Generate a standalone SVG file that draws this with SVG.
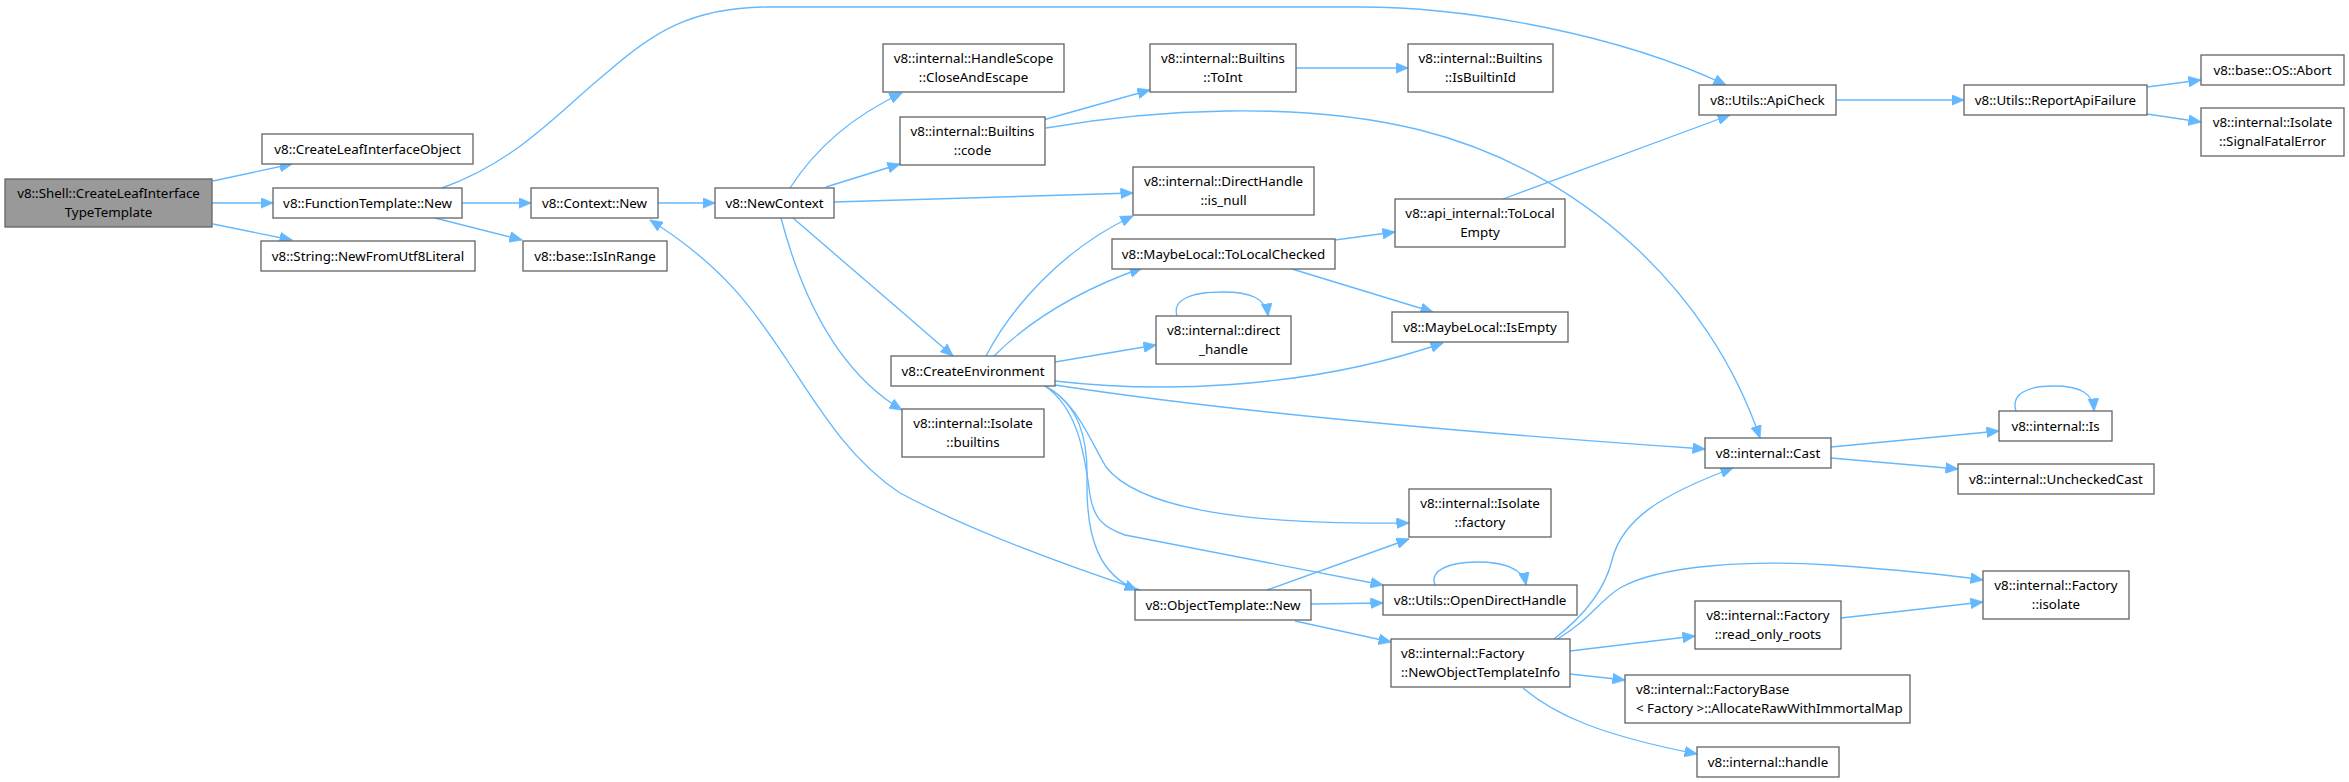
<svg xmlns="http://www.w3.org/2000/svg" width="2349" height="782" viewBox="0 0 2349 782">
<style>
.n rect{fill:#ffffff;stroke:#666666;stroke-width:1.33}
.n.root rect{fill:#999999}
.n text{font-family:"Noto Sans","DejaVu Sans",sans-serif;font-size:13.33px;fill:#000000;text-anchor:middle}
.n text.l{text-anchor:start}
#edges path{fill:none;stroke:#63B8FF;stroke-width:1.33;marker-end:url(#arr)}
</style>
<defs>
<marker id="arr" markerUnits="userSpaceOnUse" markerWidth="13" markerHeight="11" viewBox="0 0 13 11" refX="12.5" refY="5.5" orient="auto">
<path d="M0,0 L13,5.5 L0,11 z" fill="#63B8FF" stroke="#63B8FF" stroke-width="0.5"/>
</marker>
</defs>
<rect width="2349" height="782" fill="#ffffff"/>
<g id="edges">
<path d="M213,181 L292,164"/>
<path d="M212,203 L273,203"/>
<path d="M213,224 L292,240"/>
<path d="M442,188 C520,160 560,110 610,70 C650,35 690,7 768,7 L1360,7 C1470,7 1620,35 1726,85"/>
<path d="M462,203 L531,203"/>
<path d="M435,218 L522,240"/>
<path d="M658,203 L715,203"/>
<path d="M790,188 C808,160 840,122 902,93"/>
<path d="M826,187 L900,164"/>
<path d="M834,202 L1133,193"/>
<path d="M793,218 C830,250 900,310 953,356"/>
<path d="M781,218 C800,290 835,370 902,410"/>
<path d="M1140,590 C1050,560 960,525 900,493 C850,460 820,410 787,360 C760,320 730,270 650,220"/>
<path d="M986,356 C1010,310 1060,250 1133,216"/>
<path d="M994,356 C1030,320 1080,290 1142,268"/>
<path d="M1055,362 L1156,345"/>
<path d="M1055,381 C1150,392 1300,392 1443,343"/>
<path d="M1055,385 C1250,415 1500,435 1705,449"/>
<path d="M1045,386 C1075,400 1090,440 1106,467 C1140,510 1250,525 1409,523"/>
<path d="M1045,386 C1080,410 1085,460 1090,495 C1094,520 1105,528 1125,535 L1383,585"/>
<path d="M1045,386 C1080,405 1088,440 1087,480 C1086,540 1100,575 1137,590"/>
<path d="M1043,120 L1150,90"/>
<path d="M1046,128 C1150,110 1300,100 1420,130 C1580,170 1710,290 1760,438"/>
<path d="M1296,68 L1408,68"/>
<path d="M1335,240 L1395,232"/>
<path d="M1292,269 L1433,312"/>
<path d="M1503,199 L1730,115"/>
<path d="M1177,316 C1172,300 1190,292 1223,292 C1250,292 1266,298 1268,316"/>
<path d="M1836,100 L1964,100"/>
<path d="M2147,87 L2201,80"/>
<path d="M2147,114 L2201,122"/>
<path d="M1831,447 L1999,431"/>
<path d="M1831,458 L1958,469"/>
<path d="M2016,411 C2011,395 2025,386 2054,386 C2080,386 2093,393 2094,411"/>
<path d="M1267,590 L1409,539"/>
<path d="M1311,604 L1383,603"/>
<path d="M1295,621 L1391,642"/>
<path d="M1435,585 C1430,572 1445,562 1477,562 C1505,562 1523,568 1526,585"/>
<path d="M1554,639 C1585,615 1605,590 1612,560 C1622,520 1660,495 1733,468"/>
<path d="M1556,640 C1590,620 1600,600 1620,588 C1660,565 1750,560 1830,565 C1900,570 1950,575 1983,580"/>
<path d="M1570,651 L1695,636"/>
<path d="M1570,674 L1625,680"/>
<path d="M1523,688 C1555,715 1600,735 1697,754"/>
<path d="M1841,618 L1983,602"/>
</g>
<g id="n0" class="n root"><rect x="5" y="179" width="207" height="48"/><text x="108.5" y="197.5">v8::Shell::CreateLeafInterface</text><text x="108.5" y="216.5">TypeTemplate</text></g>
<g id="n1" class="n"><rect x="262" y="134" width="211" height="30"/><text x="367.5" y="153.5">v8::CreateLeafInterfaceObject</text></g>
<g id="n2" class="n"><rect x="273" y="188" width="189" height="30"/><text x="367.5" y="207.5">v8::FunctionTemplate::New</text></g>
<g id="n3" class="n"><rect x="261" y="241" width="214" height="30"/><text x="368" y="260.5">v8::String::NewFromUtf8Literal</text></g>
<g id="n4" class="n"><rect x="531" y="188" width="127" height="30"/><text x="594.5" y="207.5">v8::Context::New</text></g>
<g id="n5" class="n"><rect x="523" y="241" width="144" height="30"/><text x="595" y="260.5">v8::base::IsInRange</text></g>
<g id="n6" class="n"><rect x="715" y="188" width="119" height="30"/><text x="774.5" y="207.5">v8::NewContext</text></g>
<g id="n7" class="n"><rect x="883" y="44" width="181" height="48"/><text x="973.5" y="62.5">v8::internal::HandleScope</text><text x="973.5" y="81.5">::CloseAndEscape</text></g>
<g id="n8" class="n"><rect x="900" y="117" width="145" height="48"/><text x="972.5" y="135.5">v8::internal::Builtins</text><text x="972.5" y="154.5">::code</text></g>
<g id="n9" class="n"><rect x="1133" y="167" width="181" height="48"/><text x="1223.5" y="185.5">v8::internal::DirectHandle</text><text x="1223.5" y="204.5">::is_null</text></g>
<g id="n10" class="n"><rect x="891" y="356" width="164" height="30"/><text x="973" y="375.5">v8::CreateEnvironment</text></g>
<g id="n11" class="n"><rect x="902" y="409" width="142" height="48"/><text x="973" y="427.5">v8::internal::Isolate</text><text x="973" y="446.5">::builtins</text></g>
<g id="n12" class="n"><rect x="1135" y="590" width="176" height="30"/><text x="1223" y="609.5">v8::ObjectTemplate::New</text></g>
<g id="n13" class="n"><rect x="1150" y="44" width="146" height="48"/><text x="1223" y="62.5">v8::internal::Builtins</text><text x="1223" y="81.5">::ToInt</text></g>
<g id="n14" class="n"><rect x="1408" y="44" width="145" height="48"/><text x="1480.5" y="62.5">v8::internal::Builtins</text><text x="1480.5" y="81.5">::IsBuiltinId</text></g>
<g id="n15" class="n"><rect x="1112" y="239" width="223" height="30"/><text x="1223.5" y="258.5">v8::MaybeLocal::ToLocalChecked</text></g>
<g id="n16" class="n"><rect x="1156" y="316" width="135" height="48"/><text x="1223.5" y="334.5">v8::internal::direct</text><text x="1223.5" y="353.5">_handle</text></g>
<g id="n17" class="n"><rect x="1409" y="489" width="142" height="48"/><text x="1480" y="507.5">v8::internal::Isolate</text><text x="1480" y="526.5">::factory</text></g>
<g id="n18" class="n"><rect x="1383" y="585" width="194" height="30"/><text x="1480" y="604.5">v8::Utils::OpenDirectHandle</text></g>
<g id="n19" class="n"><rect x="1391" y="639" width="179" height="48"/><text class="l" x="1401" y="657.5">v8::internal::Factory</text><text class="l" x="1401" y="676.5">::NewObjectTemplateInfo</text></g>
<g id="n20" class="n"><rect x="1395" y="199" width="170" height="48"/><text x="1480" y="217.5">v8::api_internal::ToLocal</text><text x="1480" y="236.5">Empty</text></g>
<g id="n21" class="n"><rect x="1392" y="312" width="176" height="30"/><text x="1480" y="331.5">v8::MaybeLocal::IsEmpty</text></g>
<g id="n22" class="n"><rect x="1699" y="85" width="137" height="30"/><text x="1767.5" y="104.5">v8::Utils::ApiCheck</text></g>
<g id="n23" class="n"><rect x="1705" y="438" width="126" height="30"/><text x="1768" y="457.5">v8::internal::Cast</text></g>
<g id="n24" class="n"><rect x="1964" y="85" width="183" height="30"/><text x="2055.5" y="104.5">v8::Utils::ReportApiFailure</text></g>
<g id="n25" class="n"><rect x="2201" y="55" width="143" height="30"/><text x="2272.5" y="74.5">v8::base::OS::Abort</text></g>
<g id="n26" class="n"><rect x="2201" y="108" width="143" height="48"/><text x="2272.5" y="126.5">v8::internal::Isolate</text><text x="2272.5" y="145.5">::SignalFatalError</text></g>
<g id="n27" class="n"><rect x="1999" y="411" width="113" height="30"/><text x="2055.5" y="430.5">v8::internal::Is</text></g>
<g id="n28" class="n"><rect x="1958" y="464" width="196" height="30"/><text x="2056" y="483.5">v8::internal::UncheckedCast</text></g>
<g id="n29" class="n"><rect x="1983" y="571" width="146" height="48"/><text x="2056" y="589.5">v8::internal::Factory</text><text x="2056" y="608.5">::isolate</text></g>
<g id="n30" class="n"><rect x="1695" y="601" width="146" height="48"/><text x="1768" y="619.5">v8::internal::Factory</text><text x="1768" y="638.5">::read_only_roots</text></g>
<g id="n31" class="n"><rect x="1625" y="675" width="285" height="48"/><text class="l" x="1636" y="693.5">v8::internal::FactoryBase</text><text class="l" x="1636" y="712.5">&lt; Factory &gt;::AllocateRawWithImmortalMap</text></g>
<g id="n32" class="n"><rect x="1697" y="747" width="142" height="30"/><text x="1768" y="766.5">v8::internal::handle</text></g>
</svg>
